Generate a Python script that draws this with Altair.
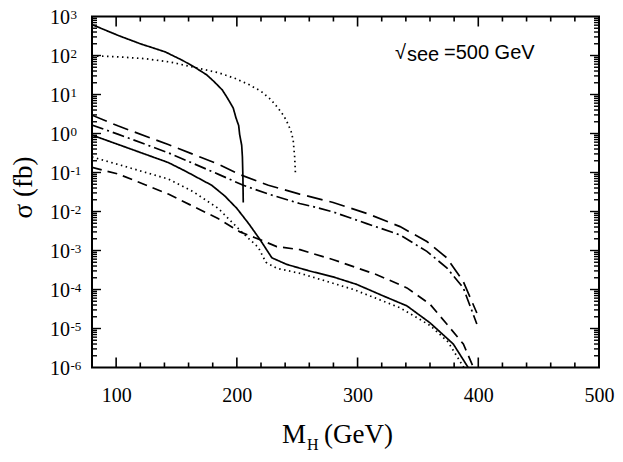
import altair as alt
import pandas as pd

# ---- data ----
s1_m = [80, 101.9, 120, 140.6, 155, 165.5, 175, 181.4, 188, 192.3, 197, 199.3, 201.5, 202.3, 204, 204.6, 205, 205.3]
s1_v = [620, 325, 200, 124, 75, 49, 32, 21, 13, 8, 4.5, 2.5, 1.6, 0.95, 0.5, 0.25, 0.08, 0.017]

d1_m = [80, 100, 123.7, 145, 165.5, 185, 198.3, 210, 220.2, 228, 234.1, 239, 242.6, 245.3, 246.7, 247.9, 248.6]
d1_v = [98, 93, 83, 68, 49, 36, 26, 18, 12, 7.5, 4.5, 2.8, 1.7, 1.05, 0.65, 0.25, 0.083]

ld_m = [80, 101.9, 143.2, 169.5, 184.4, 202.6, 226.1, 252, 279.8, 307.7, 335.2, 357.4, 373.9, 387.6, 398.8]
ld_v = [2.95, 1.55, 0.52, 0.25, 0.164, 0.088, 0.047, 0.028, 0.017, 0.0089, 0.0041, 0.0017, 6.5e-4, 1.6e-4, 2.5e-5]

dd_m = [80, 101.9, 143.2, 184.4, 205.3, 226.1, 252, 264.7, 279.8, 307.6, 335.2, 357.4, 373.9, 387.6, 398.8]
dd_v = [1.65, 0.95, 0.32, 0.091, 0.047, 0.028, 0.016, 0.013, 0.0097, 0.0049, 0.0025, 9.5e-4, 3.6e-4, 1.1e-4, 1.3e-5]

s2_m = [80, 101.9, 143.2, 157, 179.2, 190, 200, 210, 219.2, 229, 241.3, 260, 279.9, 299.3, 321.5, 340.9, 360, 379.3, 391.6]
s2_v = [0.91, 0.52, 0.18, 0.11, 0.047, 0.025, 0.012, 0.0048, 0.0019, 6.5e-4, 4.4e-4, 3e-4, 2.1e-4, 1.35e-4, 6.8e-5, 3.8e-5, 1.4e-5, 4e-6, 1e-6]

d2_m = [80, 101.9, 143.2, 164, 184.6, 205.4, 217.8, 224, 233, 252.3, 275, 296.6, 315, 335.2, 360, 375, 388]
d2_v = [0.25, 0.16, 0.068, 0.032, 0.012, 0.0027, 0.0012, 5e-4, 3.5e-4, 2.6e-4, 1.6e-4, 1e-4, 6e-5, 3.4e-5, 1.2e-5, 4.5e-6, 1e-6]

sd_m = [80, 101.9, 143.2, 184.4, 202.6, 219.2, 233, 252.3, 280, 315.9, 340.9, 360, 373.9, 387.6, 396]
sd_v = [0.135, 0.091, 0.028, 0.0066, 0.003, 0.0019, 0.00126, 0.00105, 5.8e-4, 2.4e-4, 1.1e-4, 4.2e-5, 1.3e-5, 4e-6, 1e-6]

x_ticks = [100, 200, 300, 400, 500]
y_exps = ["-6", "-5", "-4", "-3", "-2", "-1", "0", "1", "2", "3"]
y_decades = [1e-6, 1e-5, 1e-4, 1e-3, 1e-2, 1e-1, 1e0, 1e1, 1e2, 1e3]

x_major = [100, 200, 300, 400]
x_minor = [m for m in range(100, 500, 20) if m % 100 != 0]
y_major = [1e-5, 1e-4, 1e-3, 1e-2, 1e-1, 1, 10, 100]
y_minor = [k * d for d in [1e-6, 1e-5, 1e-4, 1e-3, 1e-2, 1e-1, 1, 10, 100] for k in range(2, 10)]

# ---- build tables ----
curves = [("s1", s1_m, s1_v), ("d1", d1_m, d1_v), ("ld", ld_m, ld_v), ("dd", dd_m, dd_v),
          ("s2", s2_m, s2_v), ("d2", d2_m, d2_v), ("sd", sd_m, sd_v)]
rows = []
for name, ms, vs in curves:
    for m, v in zip(ms, vs):
        rows.append({"curve": name, "M": m, "sigma": v})
df = pd.DataFrame(rows)

W, H = 507, 351
xs = alt.Scale(type="linear", domain=[80, 500], nice=False, zero=False)
ys = alt.Scale(type="log", domain=[1e-6, 1e3], nice=False)
serif = "Liberation Serif"
sans = "Liberation Sans"

dash_domain = ["s1", "d1", "ld", "dd", "s2", "d2", "sd"]
dash_range = [[1, 0], [1.5, 3.5], [16, 7], [12, 4, 2, 4], [1, 0], [1.5, 3.5], [10, 6]]

x_axis = alt.Axis(values=x_ticks, labelFont=serif, labelFontSize=20, labelColor="black",
                  ticks=False, domain=False, grid=False, labelPadding=18, labelFlush=False, title=None)

lines = alt.Chart(df).mark_line(color="black", strokeWidth=1.7, clip=True).encode(
    x=alt.X("M:Q", scale=xs, axis=x_axis),
    y=alt.Y("sigma:Q", scale=ys, axis=None),
    strokeDash=alt.StrokeDash("curve:N", scale=alt.Scale(domain=dash_domain, range=dash_range), legend=None),
    detail="curve:N",
)

xmaj = pd.DataFrame({"xa": x_major})
xmin = pd.DataFrame({"xb": x_minor})
ymaj = pd.DataFrame({"ya": y_major})
ymin = pd.DataFrame({"yb": y_minor})

# tick glyphs: a custom symbol path of length sqrt(size)/2 pixels
UP, DOWN, RIGHT, LEFT = "M0,0L0,-1", "M0,0L0,1", "M0,0L1,0", "M0,0L-1,0"

def xtick(data, f, ypix, shape, length):
    return alt.Chart(data).mark_point(shape=shape, size=(2 * length) ** 2, filled=False,
                                      color="black", strokeWidth=1.6, opacity=1).encode(
        x=alt.X(f + ":Q", scale=xs, axis=x_axis), y=alt.value(ypix))

def ytick(data, f, xpix, shape, length):
    return alt.Chart(data).mark_point(shape=shape, size=(2 * length) ** 2, filled=False,
                                      color="black", strokeWidth=1.4, opacity=1).encode(
        y=alt.Y(f + ":Q", scale=ys, axis=None), x=alt.value(xpix))

ticks = [
    xtick(xmaj, "xa", H, UP, 10), xtick(xmin, "xb", H, UP, 5),
    xtick(xmaj, "xa", 0, DOWN, 10), xtick(xmin, "xb", 0, DOWN, 5),
    ytick(ymaj, "ya", 0, RIGHT, 9), ytick(ymin, "yb", 0, RIGHT, 5),
    ytick(ymaj, "ya", W, LEFT, 9), ytick(ymin, "yb", W, LEFT, 5),
]

lab = pd.DataFrame({"yl": y_decades, "e": y_exps})
one = pd.DataFrame({"k": [0]})

ylab10 = alt.Chart(lab).mark_text(font=serif, fontSize=20, align="right", baseline="middle", dy=1.5, color="black").encode(
    y=alt.Y("yl:Q", scale=ys, axis=None), x=alt.value(-22), text=alt.value("10"))
ylabexp = alt.Chart(lab).mark_text(font=serif, fontSize=13, align="left", baseline="middle", dy=-1.5, color="black").encode(
    y=alt.Y("yl:Q", scale=ys, axis=None), x=alt.value(-21.5), text="e:N")

def label(txt, x, y, font, size, angle=None, align="left", baseline="alphabetic"):
    kw = dict(font=font, fontSize=size, align=align, baseline=baseline, color="black")
    if angle is not None:
        kw["angle"] = angle
    return alt.Chart(one).mark_text(**kw).encode(x=alt.value(x), y=alt.value(y), text=alt.value(txt))

ytitle = label("σ  (fb)", -68, 171, serif, 27, angle=270, align="center", baseline="middle")
xt_M = label("M", 190, 426, serif, 27)
xt_H = label("H", 215, 433, serif, 16)
xt_G = label("(GeV)", 232, 426, serif, 27)

ann_sqrt = label("√", 303, 42, sans, 20)
ann_s = label("see", 315, 44.5, sans, 20)
ann_v = label("=500 GeV", 352, 42, sans, 20)

chart = alt.layer(lines, *ticks, ylab10, ylabexp, ytitle, xt_M, xt_H, xt_G, ann_sqrt, ann_s, ann_v).properties(
    width=W, height=H,
    autosize=alt.AutoSizeParams(type="none"),
    padding={"left": 84, "top": 8.5, "right": 16, "bottom": 86},
).configure(background="white").configure_view(stroke="black", strokeWidth=2)

chart.save("out.html", embed_options={"renderer": "svg", "actions": False})
